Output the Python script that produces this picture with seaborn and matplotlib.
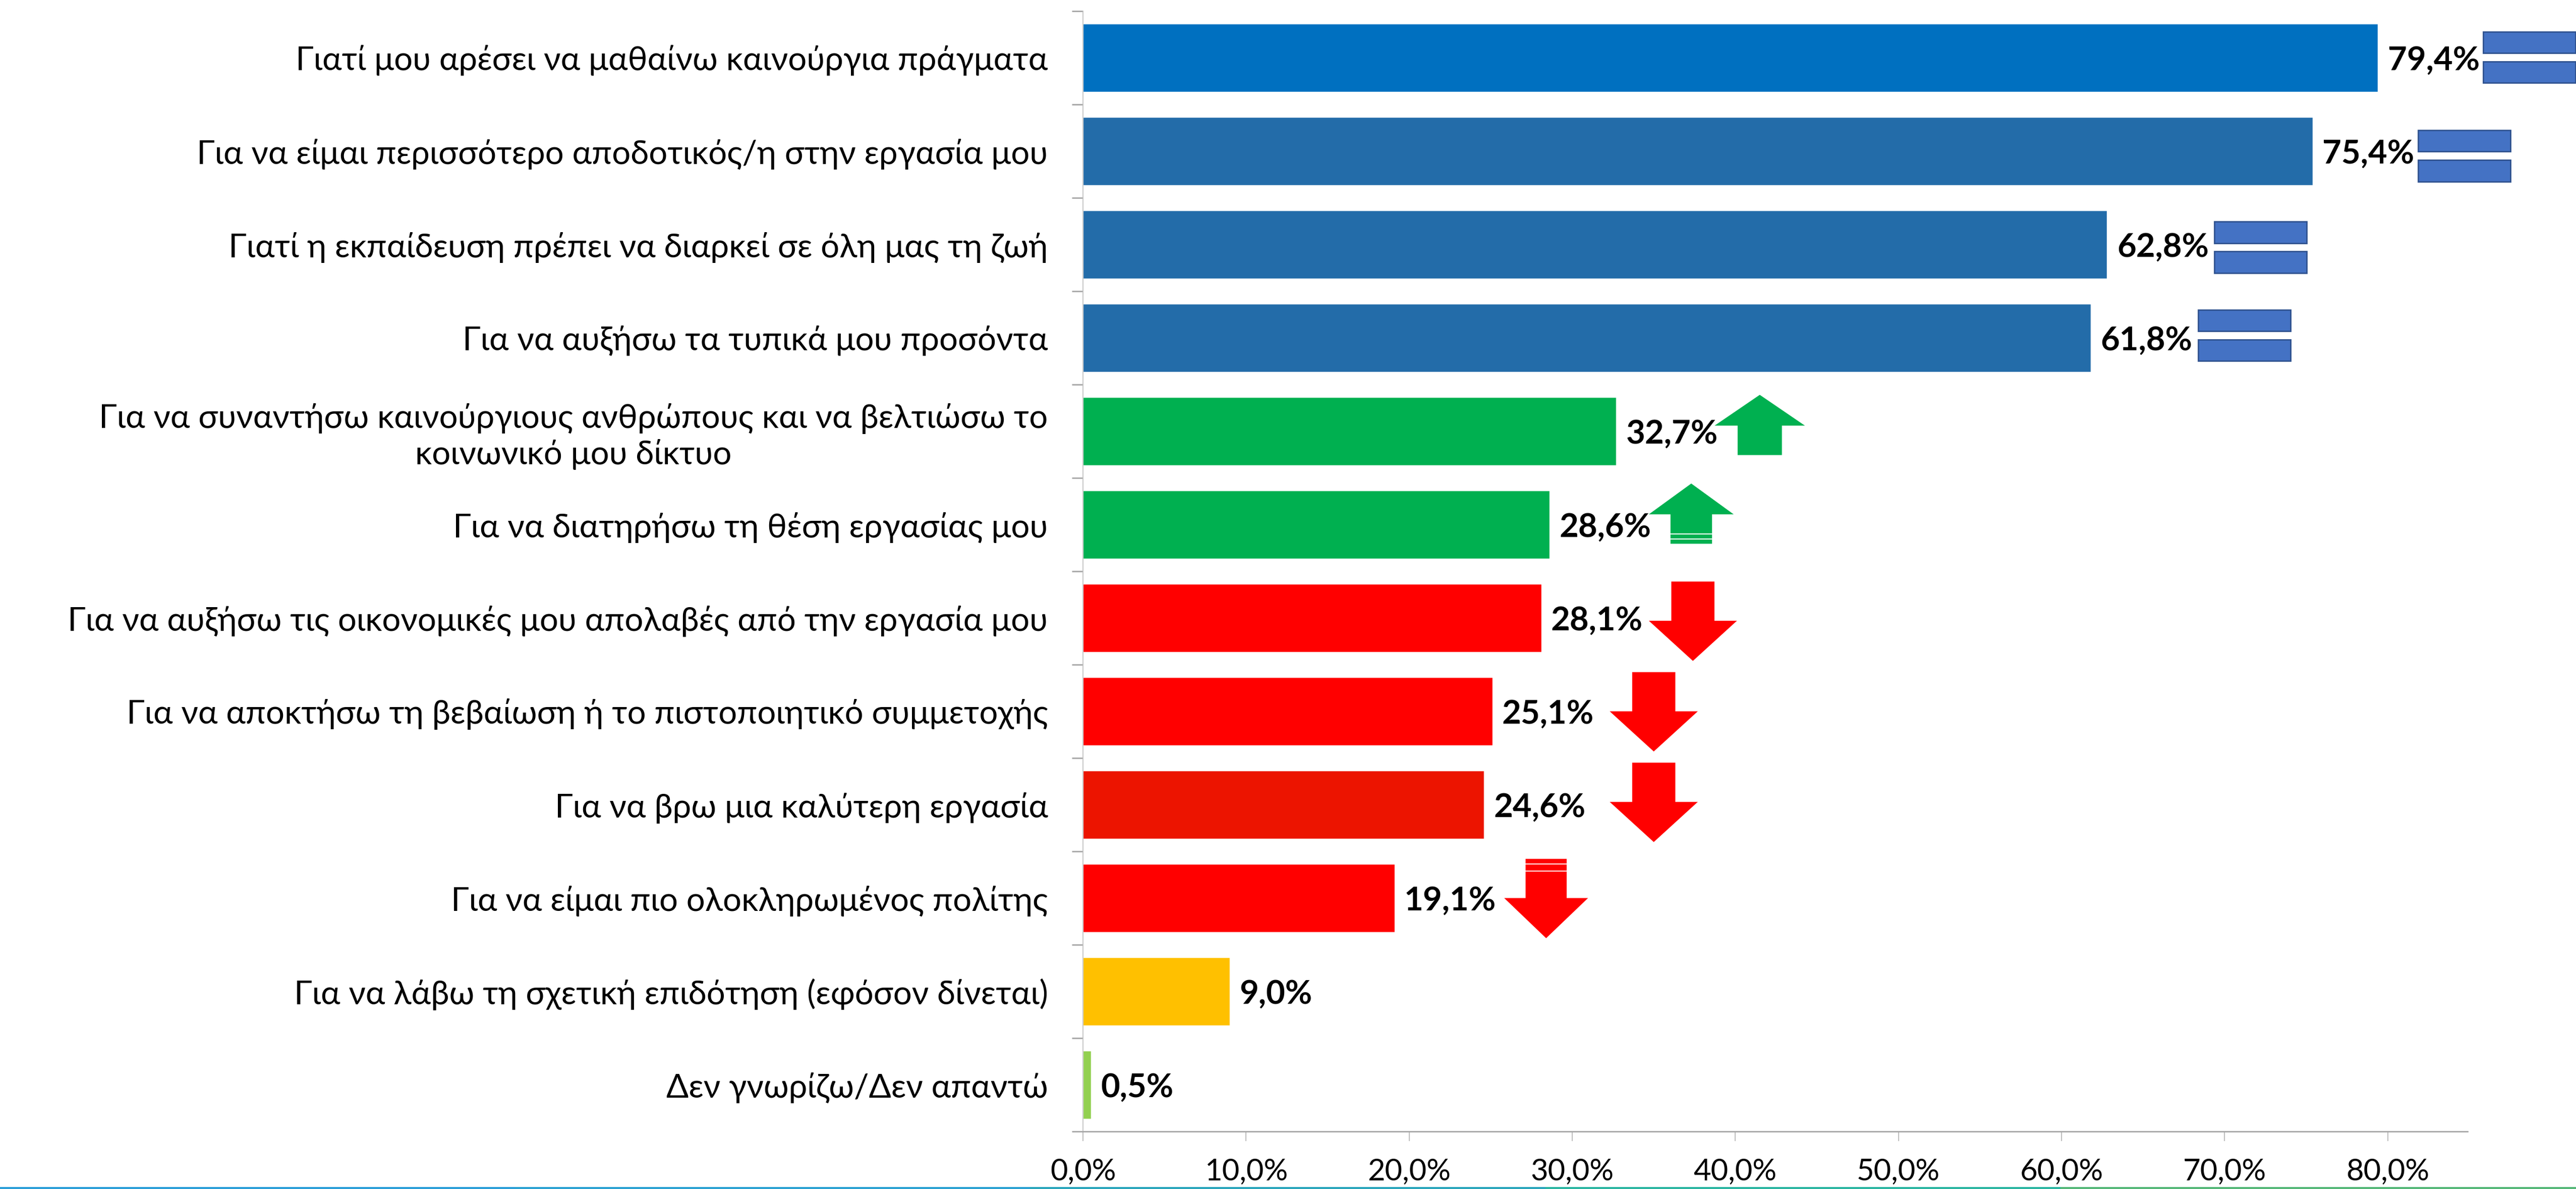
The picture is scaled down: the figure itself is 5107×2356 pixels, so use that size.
import matplotlib
matplotlib.use('Agg')
import matplotlib.pyplot as plt
from matplotlib.patches import Polygon, Rectangle
import numpy as np
import pandas as pd
import seaborn as sns

categories = [
    'Γιατί μου αρέσει να μαθαίνω καινούργια πράγματα',
    'Για να είμαι περισσότερο αποδοτικός/η στην εργασία μου',
    'Γιατί η εκπαίδευση πρέπει να διαρκεί σε όλη μας τη ζωή',
    'Για να αυξήσω τα τυπικά μου προσόντα',
    'Για να συναντήσω καινούργιους ανθρώπους και να βελτιώσω το\nκοινωνικό μου δίκτυο',
    'Για να διατηρήσω τη θέση εργασίας μου',
    'Για να αυξήσω τις οικονομικές μου απολαβές από την εργασία μου',
    'Για να αποκτήσω τη βεβαίωση ή το πιστοποιητικό συμμετοχής',
    'Για να βρω μια καλύτερη εργασία',
    'Για να είμαι πιο ολοκληρωμένος πολίτης',
    'Για να λάβω τη σχετική επιδότηση (εφόσον δίνεται)',
    'Δεν γνωρίζω/Δεν απαντώ',
]
values = [79.4, 75.4, 62.8, 61.8, 32.7, 28.6, 28.1, 25.1, 24.6, 19.1, 9.0, 0.5]
bar_colors = ['#0070C0', '#236CA9', '#236CA9', '#236CA9', '#00B050', '#00B050',
              '#FF0000', '#FF0000', '#EC1400', '#FF0000', '#FFC000', '#92D050']
trend = ['same', 'same', 'same', 'same', 'up', 'up', 'down', 'down', 'down', 'down', None, None]
trend_x = [88.7, 84.7, 72.2, 71.2, 41.5, 37.3, 37.4, 35.0, 35.0, 28.4, None, None]
trend_y = [-0.005, 0.05, 0.03, -0.027, 0.03, -0.02, 0.03, 0.0, -0.03, 0.0, None, None]
trend_hw = [None, None, None, None, 2.77, 2.6, 2.7, 2.7, 2.7, 2.57, None, None]
xticks = [0, 10, 20, 30, 40, 50, 60, 70, 80]
strip_colors = ['#2B9FD8', '#2BA2D2', '#2AA6BC', '#2BB6A2', '#55B878']

sns.set_theme(style='white')
plt.rcParams['font.family'] = ['Lato', 'Open Sans', 'DejaVu Sans']

W, H = 5107, 2356
fig = plt.figure(figsize=(W / 100, H / 100), dpi=100)
ax = fig.add_axes([2147 / W, 1 - 2242 / H, (4892 - 2147) / W, (2242 - 22) / H])

df = pd.DataFrame({'cat': categories, 'val': values})
sns.barplot(data=df, y='cat', x='val', hue='cat', palette=bar_colors, legend=False,
            width=0.73, saturation=1, ax=ax)
ax.set_xlim(0, 84.9)
ax.set_ylim(11.5, -0.5)
ax.set_xlabel('')
ax.set_ylabel('')

gray = '#A6A6A6'
for s in ['top', 'right']:
    ax.spines[s].set_visible(False)
ax.spines['left'].set_color('#BFBFBF')
ax.spines['left'].set_linewidth(1.2)
ax.spines['bottom'].set_color(gray)
ax.spines['bottom'].set_linewidth(2)

ax.set_xticks(xticks)
ax.set_xticklabels([f'{t:.1f}%'.replace('.', ',') for t in xticks], fontsize=43, color='black')
ax.tick_params(axis='x', length=14, width=1.5, color='#BFBFBF', pad=24, bottom=True)
ax.set_yticks(range(12))
ax.set_yticklabels(categories, fontsize=47, color='black', multialignment='center')
ax.tick_params(axis='y', which='major', length=0, pad=50)
ax.set_yticks(np.arange(-0.5, 12, 1), minor=True)
ax.tick_params(axis='y', which='minor', length=16, width=2, color=gray, left=True)

for i, v in enumerate(values):
    ax.text(v + 0.6, i + 0.03, f'{v:.1f}%'.replace('.', ','), fontsize=47, fontweight='bold',
            color='black', va='center', ha='left')


def arrow(x, y, hw, direction, color):
    # shape in data units: x in percent, y in category steps
    sw = hw * 0.49
    if direction == 'up':
        top, base, bot = -0.42, -0.09, 0.225
        pts = [(x, y + top), (x + hw, y + base), (x + sw, y + base), (x + sw, y + bot),
               (x - sw, y + bot), (x - sw, y + base), (x - hw, y + base)]
    else:
        top, base, bot = -0.42, 0.0, 0.43
        pts = [(x - sw, y + top), (x + sw, y + top), (x + sw, y + base), (x + hw, y + base),
               (x, y + bot), (x - hw, y + base), (x - sw, y + base)]
    ax.add_patch(Polygon(pts, closed=True, facecolor=color, edgecolor='none', clip_on=False, zorder=4))


for i, t in enumerate(trend):
    if t == 'same':
        for off in (-0.275, 0.045):
            ax.add_patch(Rectangle((trend_x[i] - 2.83, i + trend_y[i] + off), 5.66, 0.23,
                                   facecolor='#4472C4', edgecolor='#2F528F', linewidth=2,
                                   clip_on=False, zorder=4))
    elif t == 'up':
        arrow(trend_x[i], i + trend_y[i], trend_hw[i], 'up', '#00B050')
    elif t == 'down':
        arrow(trend_x[i], i + trend_y[i], trend_hw[i], 'down', '#FF0000')

# thin white streaks on two of the arrow shafts
for i, offs in ((5, (0.10, 0.155)), (9, (-0.365, -0.29))):
    for o in offs:
        ax.plot([trend_x[i] - 1.3, trend_x[i] + 1.3], [i + o, i + o], color='white', lw=1.5,
                clip_on=False, zorder=5)

# strip along the bottom edge
strip = fig.add_axes([0, 0, 1, 4 / H])
strip.imshow(np.arange(5)[None, :], aspect='auto',
             cmap=matplotlib.colors.ListedColormap(strip_colors))
strip.axis('off')

fig.savefig('out.png', dpi=100, facecolor='white')
